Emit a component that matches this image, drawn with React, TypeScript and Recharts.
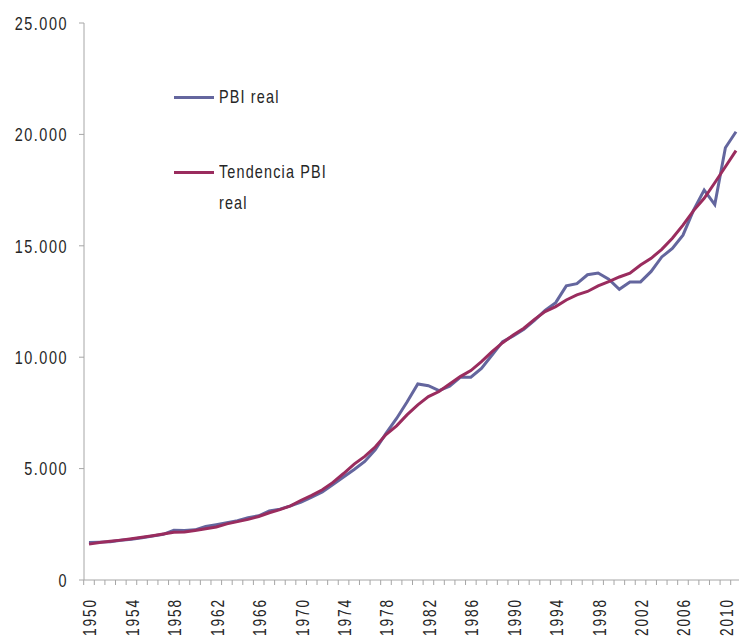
import { LineChart, Line, XAxis, YAxis, Legend } from "recharts"

const years = [
  "1950", "1951", "1952", "1953", "1954", "1955", "1956", "1957", "1958", "1959",
  "1960", "1961", "1962", "1963", "1964", "1965", "1966", "1967", "1968", "1969",
  "1970", "1971", "1972", "1973", "1974", "1975", "1976", "1977", "1978", "1979",
  "1980", "1981", "1982", "1983", "1984", "1985", "1986", "1987", "1988", "1989",
  "1990", "1991", "1992", "1993", "1994", "1995", "1996", "1997", "1998", "1999",
  "2000", "2001", "2002", "2003", "2004", "2005", "2006", "2007", "2008", "2009",
  "2010", "2011",
]

const pbiReal = [
  1680, 1700, 1720, 1780, 1830, 1900, 1970, 2050, 2230, 2220,
  2250, 2400, 2480, 2570, 2660, 2800, 2880, 3100, 3180, 3330,
  3500, 3720, 3950, 4280, 4620, 4960, 5320, 5850, 6580, 7250,
  8000, 8800, 8720, 8500, 8700, 9100, 9100, 9500, 10100, 10700,
  10950, 11250, 11650, 12100, 12450, 13200, 13300, 13700, 13780, 13500,
  13050, 13380, 13380, 13850, 14500, 14880, 15480, 16600, 17500, 16850,
  19400, 20120,
]

const tendencia = [
  1610, 1680, 1740, 1790, 1850, 1920, 1990, 2060, 2140, 2150,
  2220, 2300, 2380, 2520, 2620, 2720, 2850, 3020, 3160, 3330,
  3580, 3800, 4050, 4380, 4780, 5200, 5550, 5980, 6530, 6920,
  7420, 7860, 8230, 8460, 8800, 9130, 9400, 9800, 10250, 10650,
  11000, 11300, 11700, 12050, 12270, 12570, 12800, 12950, 13200, 13390,
  13600, 13770, 14140, 14440, 14840, 15340, 15930, 16580, 17130, 17830,
  18550, 19270,
]

const yTicks = [0, 5000, 10000, 15000, 20000, 25000]

const data = years.map((year, i) => ({ year, pbi: pbiReal[i], tendencia: tendencia[i] }))

// no condensed face installed, so squeeze Liberation Sans horizontally
const FONT = "'Liberation Sans', Arial, sans-serif"
const SQUEEZE = 0.76
const AXIS = "#a6a6a6"
const TEXT = "#262626"

// 25000 -> "25.000"
const fmt = (v: number) => String(v).replace(/\B(?=(\d{3})+(?!\d))/g, ".")

function YearTick({ x, y, payload, index }: any) {
  const half = 5.3
  return (
    <g>
      <line x1={x - half} y1={y} x2={x - half} y2={y + 5} stroke={AXIS} />
      {index % 4 === 0 && (
        <text
          transform={`translate(${x + 1},${y + 18}) rotate(-90) scale(${SQUEEZE},1)`}
          textAnchor="end"
          dy="0.355em"
          fontFamily={FONT}
          fontSize={18}
          letterSpacing={2.5}
          fill={TEXT}
        >
          {payload.value}
        </text>
      )}
    </g>
  )
}

function ValueTick({ x, y, payload }: any) {
  return (
    <text
      transform={`translate(${x},${y}) scale(${SQUEEZE},1)`}
      textAnchor="end"
      dy="0.355em"
      fontFamily={FONT}
      fontSize={19}
      letterSpacing={2}
      fill={TEXT}
    >
      {fmt(payload.value)}
    </text>
  )
}

function LegendBox({ payload }: any) {
  return (
    <div style={{ fontFamily: FONT, fontSize: 19, color: TEXT, letterSpacing: 1.5 }}>
      {(payload || []).map((p: any) => (
        <div key={p.value} style={{ display: "flex", alignItems: "flex-start", marginBottom: 46 }}>
          <div style={{ width: 40, height: 3, background: p.color, marginTop: 13, marginRight: 5, flex: "none" }} />
          <div
            style={{
              width: 160,
              lineHeight: "31px",
              marginTop: -2,
              transform: `scaleX(${SQUEEZE})`,
              transformOrigin: "left top",
            }}
          >
            {p.value}
          </div>
        </div>
      ))}
    </div>
  )
}

export default function App() {
  return (
    <div style={{ position: "absolute", left: 0, top: 0, width: 739, height: 638, background: "#fff" }}>
      <LineChart width={739} height={638} data={data} margin={{ top: 23, right: 0, bottom: 0, left: 0 }}>
        <XAxis
          dataKey="year"
          interval={0}
          height={58}
          padding={{ left: 5, right: 3 }}
          stroke={AXIS}
          tickLine={false}
          tickSize={0}
          tickMargin={0}
          tick={<YearTick />}
        />
        <YAxis
          width={84}
          domain={[0, 25000]}
          ticks={yTicks}
          stroke={AXIS}
          tickSize={5}
          tickMargin={11}
          tick={<ValueTick />}
        />
        <Legend
          layout="vertical"
          align="center"
          verticalAlign="middle"
          wrapperStyle={{ left: 174, top: 83, width: 220 }}
          content={<LegendBox />}
        />
        <Line
          type="linear"
          dataKey="pbi"
          name="PBI real"
          stroke="#64669e"
          strokeWidth={3}
          dot={false}
          isAnimationActive={false}
        />
        <Line
          type="linear"
          dataKey="tendencia"
          name="Tendencia PBI real"
          stroke="#9a2c5e"
          strokeWidth={3}
          dot={false}
          isAnimationActive={false}
        />
      </LineChart>
    </div>
  )
}
